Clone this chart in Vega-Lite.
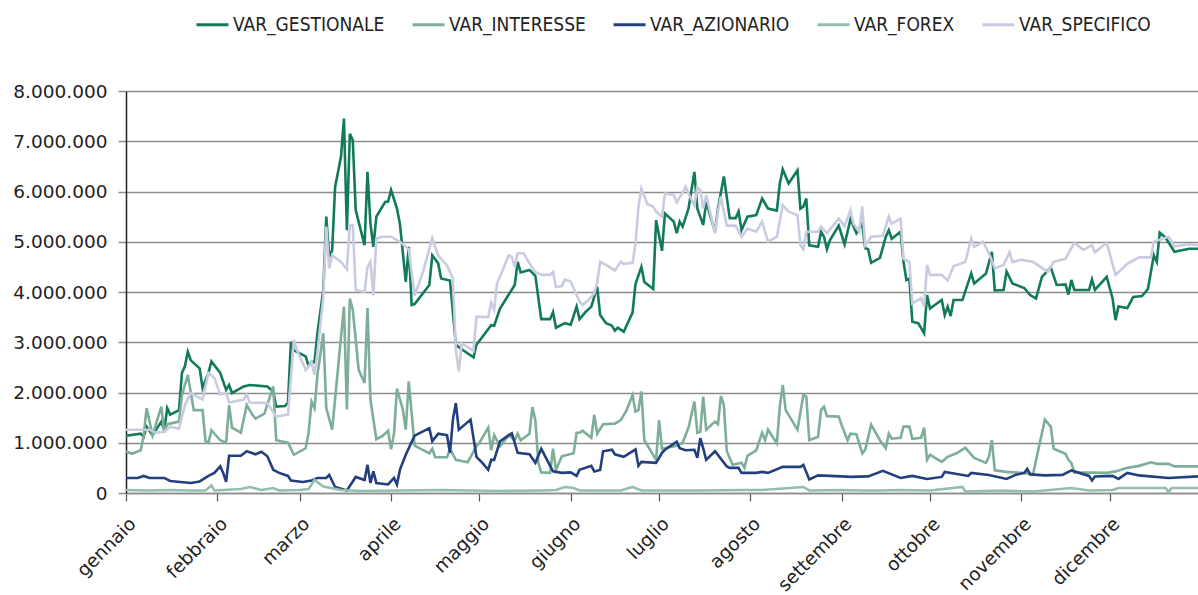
{
  "$schema": "https://vega.github.io/schema/vega-lite/v6.json",
  "width": 1072,
  "height": 402,
  "autosize": {"type": "none"},
  "padding": {"left": 126, "top": 91, "right": 0, "bottom": 102},
  "background": "white",
  "config": {
    "view": {"stroke": null},
    "locale": {"number": {"decimal": ",", "thousands": ".", "grouping": [3], "currency": ["", " €"]}}
  },
  "datasets": {
    "g": [
      {"d":"2021-01-01","v":1140000},{"d":"2021-01-06","v":1180000},{"d":"2021-01-07","v":1120000},{"d":"2021-01-08","v":1320000},{"d":"2021-01-10","v":1150000},{"d":"2021-01-13","v":1420000},{"d":"2021-01-14","v":1250000},{"d":"2021-01-15","v":1690000},{"d":"2021-01-16","v":1560000},{"d":"2021-01-19","v":1650000},{"d":"2021-01-20","v":2390000},{"d":"2021-01-21","v":2520000},{"d":"2021-01-22","v":2810000},{"d":"2021-01-23","v":2640000},{"d":"2021-01-26","v":2480000},{"d":"2021-01-27","v":2090000},{"d":"2021-01-29","v":2390000},{"d":"2021-01-30","v":2620000},
      {"d":"2021-02-02","v":2390000},{"d":"2021-02-04","v":2050000},{"d":"2021-02-05","v":2150000},{"d":"2021-02-06","v":1990000},{"d":"2021-02-10","v":2120000},{"d":"2021-02-12","v":2150000},{"d":"2021-02-18","v":2120000},{"d":"2021-02-20","v":2020000},{"d":"2021-02-21","v":1720000},{"d":"2021-02-24","v":1730000},{"d":"2021-02-25","v":1800000},{"d":"2021-02-26","v":3010000},{"d":"2021-02-27","v":2840000},
      {"d":"2021-03-03","v":2720000},{"d":"2021-03-04","v":2530000},{"d":"2021-03-05","v":2610000},{"d":"2021-03-06","v":2600000},{"d":"2021-03-07","v":3180000},{"d":"2021-03-09","v":4040000},{"d":"2021-03-10","v":5500000},{"d":"2021-03-11","v":4700000},{"d":"2021-03-12","v":4830000},{"d":"2021-03-13","v":6090000},{"d":"2021-03-15","v":6690000},{"d":"2021-03-16","v":7450000},{"d":"2021-03-17","v":5230000},{"d":"2021-03-18","v":7150000},{"d":"2021-03-19","v":7020000},{"d":"2021-03-20","v":5630000},{"d":"2021-03-23","v":4930000},{"d":"2021-03-24","v":6390000},{"d":"2021-03-25","v":5360000},{"d":"2021-03-26","v":4900000},{"d":"2021-03-27","v":5500000},{"d":"2021-03-30","v":5790000},{"d":"2021-03-31","v":5800000},
      {"d":"2021-04-01","v":6030000},{"d":"2021-04-03","v":5660000},{"d":"2021-04-04","v":5360000},{"d":"2021-04-06","v":4200000},{"d":"2021-04-07","v":4900000},{"d":"2021-04-08","v":3740000},{"d":"2021-04-09","v":3760000},{"d":"2021-04-14","v":4140000},{"d":"2021-04-15","v":4730000},{"d":"2021-04-17","v":4570000},{"d":"2021-04-18","v":4270000},{"d":"2021-04-21","v":4230000},{"d":"2021-04-22","v":3600000},{"d":"2021-04-23","v":2950000},{"d":"2021-04-25","v":2860000},{"d":"2021-04-29","v":2700000},{"d":"2021-04-30","v":2950000},
      {"d":"2021-05-05","v":3340000},{"d":"2021-05-06","v":3330000},{"d":"2021-05-08","v":3670000},{"d":"2021-05-13","v":4140000},{"d":"2021-05-14","v":4600000},{"d":"2021-05-15","v":4390000},{"d":"2021-05-18","v":4440000},{"d":"2021-05-20","v":4320000},{"d":"2021-05-22","v":3460000},{"d":"2021-05-25","v":3460000},{"d":"2021-05-26","v":3600000},{"d":"2021-05-27","v":3290000},{"d":"2021-05-30","v":3380000},
      {"d":"2021-06-01","v":3350000},{"d":"2021-06-03","v":3710000},{"d":"2021-06-04","v":3460000},{"d":"2021-06-06","v":3600000},{"d":"2021-06-08","v":3710000},{"d":"2021-06-10","v":4100000},{"d":"2021-06-11","v":3540000},{"d":"2021-06-13","v":3380000},{"d":"2021-06-15","v":3330000},{"d":"2021-06-16","v":3230000},{"d":"2021-06-17","v":3290000},{"d":"2021-06-19","v":3210000},{"d":"2021-06-22","v":3590000},{"d":"2021-06-23","v":4160000},{"d":"2021-06-25","v":4500000},{"d":"2021-06-26","v":4200000},{"d":"2021-06-29","v":4060000},{"d":"2021-06-30","v":5430000},
      {"d":"2021-07-02","v":4820000},{"d":"2021-07-03","v":5560000},{"d":"2021-07-06","v":5400000},{"d":"2021-07-07","v":5170000},{"d":"2021-07-08","v":5400000},{"d":"2021-07-09","v":5300000},{"d":"2021-07-11","v":5660000},{"d":"2021-07-13","v":6390000},{"d":"2021-07-14","v":5660000},{"d":"2021-07-16","v":5330000},{"d":"2021-07-17","v":5790000},{"d":"2021-07-20","v":5200000},{"d":"2021-07-21","v":5660000},{"d":"2021-07-23","v":6300000},{"d":"2021-07-25","v":5470000},{"d":"2021-07-27","v":5470000},{"d":"2021-07-28","v":5600000},{"d":"2021-07-29","v":5230000},{"d":"2021-07-31","v":5500000},
      {"d":"2021-08-03","v":5530000},{"d":"2021-08-05","v":5860000},{"d":"2021-08-07","v":5660000},{"d":"2021-08-10","v":5620000},{"d":"2021-08-11","v":6160000},{"d":"2021-08-12","v":6440000},{"d":"2021-08-14","v":6160000},{"d":"2021-08-17","v":6420000},{"d":"2021-08-18","v":5660000},{"d":"2021-08-19","v":5700000},{"d":"2021-08-20","v":5860000},{"d":"2021-08-21","v":4930000},{"d":"2021-08-24","v":4900000},{"d":"2021-08-25","v":5200000},{"d":"2021-08-26","v":5100000},{"d":"2021-08-27","v":4850000},{"d":"2021-08-28","v":5030000},{"d":"2021-08-31","v":5320000},
      {"d":"2021-09-02","v":4950000},{"d":"2021-09-04","v":5450000},{"d":"2021-09-06","v":5170000},{"d":"2021-09-08","v":5360000},{"d":"2021-09-09","v":4870000},{"d":"2021-09-10","v":4850000},{"d":"2021-09-11","v":4580000},{"d":"2021-09-14","v":4680000},{"d":"2021-09-16","v":5100000},{"d":"2021-09-17","v":5230000},{"d":"2021-09-18","v":5060000},{"d":"2021-09-21","v":5200000},{"d":"2021-09-22","v":4600000},{"d":"2021-09-23","v":4240000},{"d":"2021-09-24","v":4270000},{"d":"2021-09-25","v":3410000},{"d":"2021-09-27","v":3380000},{"d":"2021-09-29","v":3180000},{"d":"2021-09-30","v":3940000},
      {"d":"2021-10-01","v":3670000},{"d":"2021-10-05","v":3840000},{"d":"2021-10-06","v":3540000},{"d":"2021-10-07","v":3710000},{"d":"2021-10-08","v":3520000},{"d":"2021-10-09","v":3840000},{"d":"2021-10-12","v":3840000},{"d":"2021-10-15","v":4370000},{"d":"2021-10-16","v":4170000},{"d":"2021-10-20","v":4370000},{"d":"2021-10-21","v":4580000},{"d":"2021-10-22","v":4800000},{"d":"2021-10-23","v":4030000},{"d":"2021-10-26","v":4040000},{"d":"2021-10-27","v":4410000},{"d":"2021-10-29","v":4170000},
      {"d":"2021-11-02","v":4080000},{"d":"2021-11-04","v":3940000},{"d":"2021-11-06","v":3870000},{"d":"2021-11-08","v":4300000},{"d":"2021-11-11","v":4490000},{"d":"2021-11-13","v":4140000},{"d":"2021-11-16","v":4150000},{"d":"2021-11-17","v":3950000},{"d":"2021-11-18","v":4240000},{"d":"2021-11-19","v":4040000},{"d":"2021-11-24","v":4040000},{"d":"2021-11-25","v":4250000},{"d":"2021-11-26","v":4040000},{"d":"2021-11-30","v":4300000},
      {"d":"2021-12-02","v":3870000},{"d":"2021-12-03","v":3440000},{"d":"2021-12-04","v":3710000},{"d":"2021-12-07","v":3680000},{"d":"2021-12-09","v":3900000},{"d":"2021-12-12","v":3920000},{"d":"2021-12-14","v":4060000},{"d":"2021-12-16","v":4730000},{"d":"2021-12-17","v":4600000},{"d":"2021-12-18","v":5180000},{"d":"2021-12-20","v":5080000},{"d":"2021-12-23","v":4800000},{"d":"2021-12-28","v":4860000},{"d":"2021-12-31","v":4860000}
    ],
    "i": [
      {"d":"2021-01-01","v":830000},{"d":"2021-01-03","v":780000},{"d":"2021-01-06","v":850000},{"d":"2021-01-07","v":1150000},{"d":"2021-01-08","v":1690000},{"d":"2021-01-10","v":1150000},{"d":"2021-01-13","v":1720000},{"d":"2021-01-14","v":1200000},{"d":"2021-01-15","v":1370000},{"d":"2021-01-19","v":1420000},{"d":"2021-01-20","v":1950000},{"d":"2021-01-22","v":2350000},{"d":"2021-01-24","v":1650000},{"d":"2021-01-27","v":1650000},{"d":"2021-01-28","v":1030000},{"d":"2021-01-29","v":1000000},{"d":"2021-01-30","v":1250000},
      {"d":"2021-02-02","v":1050000},{"d":"2021-02-04","v":1000000},{"d":"2021-02-05","v":1750000},{"d":"2021-02-06","v":1300000},{"d":"2021-02-09","v":1200000},{"d":"2021-02-11","v":1750000},{"d":"2021-02-13","v":1550000},{"d":"2021-02-14","v":1480000},{"d":"2021-02-17","v":1580000},{"d":"2021-02-20","v":2120000},{"d":"2021-02-21","v":1050000},{"d":"2021-02-25","v":1000000},{"d":"2021-02-27","v":760000},
      {"d":"2021-03-03","v":890000},{"d":"2021-03-04","v":1200000},{"d":"2021-03-05","v":1820000},{"d":"2021-03-06","v":1690000},{"d":"2021-03-07","v":2350000},{"d":"2021-03-09","v":3180000},{"d":"2021-03-10","v":1690000},{"d":"2021-03-12","v":1260000},{"d":"2021-03-16","v":3710000},{"d":"2021-03-17","v":1660000},{"d":"2021-03-18","v":3870000},{"d":"2021-03-19","v":3650000},{"d":"2021-03-21","v":2450000},{"d":"2021-03-23","v":2190000},{"d":"2021-03-24","v":3680000},{"d":"2021-03-25","v":1860000},{"d":"2021-03-27","v":1070000},{"d":"2021-03-29","v":1130000},{"d":"2021-03-31","v":1240000},
      {"d":"2021-04-01","v":870000},{"d":"2021-04-02","v":1180000},{"d":"2021-04-03","v":2080000},{"d":"2021-04-05","v":1660000},{"d":"2021-04-06","v":1260000},{"d":"2021-04-07","v":2220000},{"d":"2021-04-09","v":940000},{"d":"2021-04-14","v":790000},{"d":"2021-04-15","v":880000},{"d":"2021-04-16","v":710000},{"d":"2021-04-20","v":710000},{"d":"2021-04-21","v":880000},{"d":"2021-04-23","v":660000},{"d":"2021-04-27","v":610000},{"d":"2021-04-30","v":930000},
      {"d":"2021-05-01","v":1000000},{"d":"2021-05-04","v":1300000},{"d":"2021-05-05","v":850000},{"d":"2021-05-06","v":1150000},{"d":"2021-05-08","v":930000},{"d":"2021-05-11","v":1150000},{"d":"2021-05-13","v":1050000},{"d":"2021-05-14","v":1180000},{"d":"2021-05-15","v":1050000},{"d":"2021-05-18","v":1180000},{"d":"2021-05-19","v":1710000},{"d":"2021-05-20","v":1450000},{"d":"2021-05-21","v":600000},{"d":"2021-05-22","v":410000},{"d":"2021-05-25","v":400000},{"d":"2021-05-26","v":880000},{"d":"2021-05-27","v":460000},{"d":"2021-05-29","v":730000},
      {"d":"2021-06-02","v":790000},{"d":"2021-06-03","v":1200000},{"d":"2021-06-04","v":1200000},{"d":"2021-06-05","v":1240000},{"d":"2021-06-08","v":1100000},{"d":"2021-06-09","v":1560000},{"d":"2021-06-10","v":1180000},{"d":"2021-06-12","v":1370000},{"d":"2021-06-16","v":1380000},{"d":"2021-06-18","v":1450000},{"d":"2021-06-20","v":1650000},{"d":"2021-06-22","v":1950000},{"d":"2021-06-23","v":1620000},{"d":"2021-06-24","v":1650000},{"d":"2021-06-25","v":2020000},{"d":"2021-06-26","v":1050000},{"d":"2021-06-30","v":660000},
      {"d":"2021-07-01","v":1450000},{"d":"2021-07-02","v":880000},{"d":"2021-07-07","v":940000},{"d":"2021-07-09","v":1000000},{"d":"2021-07-11","v":1300000},{"d":"2021-07-13","v":1820000},{"d":"2021-07-14","v":1200000},{"d":"2021-07-15","v":1220000},{"d":"2021-07-16","v":1920000},{"d":"2021-07-17","v":1260000},{"d":"2021-07-20","v":1420000},{"d":"2021-07-21","v":1370000},{"d":"2021-07-22","v":1930000},{"d":"2021-07-23","v":1750000},{"d":"2021-07-24","v":830000},{"d":"2021-07-26","v":560000},{"d":"2021-07-29","v":600000},{"d":"2021-07-30","v":500000},{"d":"2021-07-31","v":740000},
      {"d":"2021-08-03","v":850000},{"d":"2021-08-05","v":1200000},{"d":"2021-08-06","v":1050000},{"d":"2021-08-07","v":1260000},{"d":"2021-08-10","v":990000},{"d":"2021-08-11","v":1720000},{"d":"2021-08-12","v":2150000},{"d":"2021-08-13","v":1650000},{"d":"2021-08-17","v":1260000},{"d":"2021-08-19","v":1950000},{"d":"2021-08-20","v":1920000},{"d":"2021-08-21","v":1050000},{"d":"2021-08-24","v":1120000},{"d":"2021-08-25","v":1650000},{"d":"2021-08-26","v":1720000},{"d":"2021-08-27","v":1530000},{"d":"2021-08-31","v":1520000},
      {"d":"2021-09-01","v":1350000},{"d":"2021-09-03","v":1050000},{"d":"2021-09-04","v":1180000},{"d":"2021-09-06","v":1170000},{"d":"2021-09-08","v":790000},{"d":"2021-09-09","v":860000},{"d":"2021-09-11","v":1360000},{"d":"2021-09-14","v":1050000},{"d":"2021-09-16","v":890000},{"d":"2021-09-17","v":1180000},{"d":"2021-09-18","v":1080000},{"d":"2021-09-21","v":1100000},{"d":"2021-09-22","v":1320000},{"d":"2021-09-24","v":1320000},{"d":"2021-09-25","v":1080000},{"d":"2021-09-28","v":1100000},{"d":"2021-09-29","v":1300000},{"d":"2021-09-30","v":660000},
      {"d":"2021-10-01","v":760000},{"d":"2021-10-05","v":620000},{"d":"2021-10-07","v":720000},{"d":"2021-10-10","v":790000},{"d":"2021-10-13","v":900000},{"d":"2021-10-16","v":700000},{"d":"2021-10-20","v":600000},{"d":"2021-10-21","v":720000},{"d":"2021-10-22","v":1050000},{"d":"2021-10-23","v":450000},{"d":"2021-10-27","v":420000},
      {"d":"2021-11-01","v":400000},{"d":"2021-11-05","v":380000},{"d":"2021-11-09","v":1460000},{"d":"2021-11-11","v":1320000},{"d":"2021-11-12","v":880000},{"d":"2021-11-16","v":780000},{"d":"2021-11-17","v":660000},{"d":"2021-11-18","v":600000},{"d":"2021-11-19","v":410000},{"d":"2021-11-30","v":400000},
      {"d":"2021-12-03","v":430000},{"d":"2021-12-07","v":500000},{"d":"2021-12-11","v":540000},{"d":"2021-12-15","v":610000},{"d":"2021-12-17","v":580000},{"d":"2021-12-21","v":580000},{"d":"2021-12-23","v":530000},{"d":"2021-12-31","v":530000}
    ],
    "a": [
      {"d":"2021-01-01","v":300000},{"d":"2021-01-05","v":300000},{"d":"2021-01-07","v":340000},{"d":"2021-01-09","v":300000},{"d":"2021-01-14","v":300000},{"d":"2021-01-16","v":240000},{"d":"2021-01-23","v":200000},{"d":"2021-01-26","v":230000},{"d":"2021-01-29","v":340000},{"d":"2021-01-31","v":400000},
      {"d":"2021-02-02","v":530000},{"d":"2021-02-03","v":400000},{"d":"2021-02-04","v":220000},{"d":"2021-02-05","v":740000},{"d":"2021-02-09","v":740000},{"d":"2021-02-11","v":830000},{"d":"2021-02-14","v":770000},{"d":"2021-02-16","v":820000},{"d":"2021-02-18","v":730000},{"d":"2021-02-20","v":460000},{"d":"2021-02-22","v":400000},{"d":"2021-02-25","v":340000},{"d":"2021-02-26","v":250000},
      {"d":"2021-03-02","v":220000},{"d":"2021-03-05","v":250000},{"d":"2021-03-07","v":300000},{"d":"2021-03-10","v":300000},{"d":"2021-03-11","v":360000},{"d":"2021-03-13","v":120000},{"d":"2021-03-17","v":50000},{"d":"2021-03-20","v":320000},{"d":"2021-03-23","v":260000},{"d":"2021-03-24","v":560000},{"d":"2021-03-25","v":200000},{"d":"2021-03-26","v":430000},{"d":"2021-03-27","v":200000},{"d":"2021-03-31","v":170000},
      {"d":"2021-04-02","v":300000},{"d":"2021-04-03","v":170000},{"d":"2021-04-04","v":460000},{"d":"2021-04-06","v":760000},{"d":"2021-04-09","v":1140000},{"d":"2021-04-14","v":1290000},{"d":"2021-04-15","v":1030000},{"d":"2021-04-17","v":1180000},{"d":"2021-04-20","v":1150000},{"d":"2021-04-21","v":800000},{"d":"2021-04-22","v":1460000},{"d":"2021-04-23","v":1790000},{"d":"2021-04-24","v":1260000},{"d":"2021-04-28","v":1460000},{"d":"2021-04-30","v":720000},
      {"d":"2021-05-02","v":600000},{"d":"2021-05-04","v":460000},{"d":"2021-05-05","v":660000},{"d":"2021-05-06","v":660000},{"d":"2021-05-08","v":1030000},{"d":"2021-05-12","v":1190000},{"d":"2021-05-14","v":800000},{"d":"2021-05-18","v":770000},{"d":"2021-05-20","v":600000},{"d":"2021-05-22","v":880000},{"d":"2021-05-26","v":430000},{"d":"2021-05-29","v":400000},
      {"d":"2021-06-01","v":410000},{"d":"2021-06-03","v":340000},{"d":"2021-06-04","v":460000},{"d":"2021-06-08","v":540000},{"d":"2021-06-09","v":430000},{"d":"2021-06-11","v":460000},{"d":"2021-06-12","v":830000},{"d":"2021-06-15","v":860000},{"d":"2021-06-16","v":770000},{"d":"2021-06-19","v":720000},{"d":"2021-06-23","v":870000},{"d":"2021-06-24","v":540000},{"d":"2021-06-25","v":620000},{"d":"2021-06-30","v":600000},
      {"d":"2021-07-02","v":800000},{"d":"2021-07-03","v":860000},{"d":"2021-07-07","v":1020000},{"d":"2021-07-08","v":890000},{"d":"2021-07-10","v":850000},{"d":"2021-07-13","v":860000},{"d":"2021-07-14","v":700000},{"d":"2021-07-15","v":1090000},{"d":"2021-07-16","v":890000},{"d":"2021-07-17","v":660000},{"d":"2021-07-20","v":830000},{"d":"2021-07-24","v":530000},{"d":"2021-07-25","v":500000},{"d":"2021-07-28","v":500000},{"d":"2021-07-29","v":400000},
      {"d":"2021-08-03","v":400000},{"d":"2021-08-05","v":420000},{"d":"2021-08-07","v":400000},{"d":"2021-08-12","v":520000},{"d":"2021-08-18","v":520000},{"d":"2021-08-19","v":560000},{"d":"2021-08-21","v":270000},{"d":"2021-08-24","v":350000},
      {"d":"2021-09-01","v":330000},{"d":"2021-09-04","v":320000},{"d":"2021-09-10","v":330000},{"d":"2021-09-15","v":440000},{"d":"2021-09-21","v":300000},{"d":"2021-09-25","v":340000},{"d":"2021-09-30","v":280000},
      {"d":"2021-10-05","v":320000},{"d":"2021-10-06","v":420000},{"d":"2021-10-14","v":340000},{"d":"2021-10-15","v":400000},{"d":"2021-10-21","v":360000},{"d":"2021-10-27","v":280000},{"d":"2021-10-30","v":360000},
      {"d":"2021-11-02","v":400000},{"d":"2021-11-03","v":480000},{"d":"2021-11-04","v":370000},{"d":"2021-11-09","v":350000},{"d":"2021-11-15","v":360000},{"d":"2021-11-18","v":450000},{"d":"2021-11-24","v":340000},{"d":"2021-11-25","v":250000},{"d":"2021-11-26","v":330000},
      {"d":"2021-12-02","v":340000},{"d":"2021-12-04","v":280000},{"d":"2021-12-07","v":400000},{"d":"2021-12-11","v":350000},{"d":"2021-12-21","v":300000},{"d":"2021-12-31","v":330000}
    ],
    "f": [
      {"d":"2021-01-01","v":60000},{"d":"2021-01-09","v":50000},{"d":"2021-01-16","v":60000},{"d":"2021-01-23","v":50000},{"d":"2021-01-28","v":50000},{"d":"2021-01-30","v":150000},{"d":"2021-01-31","v":50000},
      {"d":"2021-02-09","v":80000},{"d":"2021-02-12","v":120000},{"d":"2021-02-16","v":60000},{"d":"2021-02-20","v":100000},{"d":"2021-02-22","v":50000},
      {"d":"2021-03-01","v":60000},{"d":"2021-03-04","v":80000},{"d":"2021-03-06","v":260000},{"d":"2021-03-09","v":130000},{"d":"2021-03-15","v":60000},{"d":"2021-03-22","v":40000},
      {"d":"2021-04-04","v":50000},{"d":"2021-04-18","v":60000},{"d":"2021-05-08","v":40000},{"d":"2021-05-22","v":50000},{"d":"2021-05-27","v":60000},{"d":"2021-05-30","v":120000},
      {"d":"2021-06-02","v":100000},{"d":"2021-06-04","v":50000},{"d":"2021-06-18","v":50000},{"d":"2021-06-22","v":120000},{"d":"2021-06-25","v":50000},
      {"d":"2021-07-15","v":50000},{"d":"2021-07-29","v":60000},{"d":"2021-08-05","v":60000},{"d":"2021-08-19","v":120000},{"d":"2021-08-21","v":50000},
      {"d":"2021-09-01","v":60000},{"d":"2021-09-08","v":50000},{"d":"2021-09-14","v":50000},{"d":"2021-09-21","v":60000},
      {"d":"2021-10-01","v":50000},{"d":"2021-10-12","v":120000},{"d":"2021-10-13","v":30000},{"d":"2021-10-25","v":50000},
      {"d":"2021-11-05","v":30000},{"d":"2021-11-18","v":100000},{"d":"2021-11-24","v":50000},
      {"d":"2021-12-02","v":60000},{"d":"2021-12-04","v":100000},{"d":"2021-12-20","v":100000},{"d":"2021-12-21","v":20000},{"d":"2021-12-22","v":100000},{"d":"2021-12-31","v":100000}
    ],
    "s": [
      {"d":"2021-01-01","v":1260000},{"d":"2021-01-09","v":1260000},{"d":"2021-01-11","v":1200000},{"d":"2021-01-14","v":1220000},{"d":"2021-01-16","v":1320000},{"d":"2021-01-19","v":1280000},{"d":"2021-01-21","v":1750000},{"d":"2021-01-23","v":1990000},{"d":"2021-01-27","v":1860000},{"d":"2021-01-29","v":2390000},{"d":"2021-01-31","v":2290000},
      {"d":"2021-02-02","v":1960000},{"d":"2021-02-04","v":1990000},{"d":"2021-02-05","v":1800000},{"d":"2021-02-10","v":1860000},{"d":"2021-02-11","v":1960000},{"d":"2021-02-12","v":1800000},{"d":"2021-02-18","v":1790000},{"d":"2021-02-21","v":1520000},{"d":"2021-02-25","v":1560000},{"d":"2021-02-27","v":3050000},{"d":"2021-02-28","v":2850000},
      {"d":"2021-03-03","v":2450000},{"d":"2021-03-05","v":2600000},{"d":"2021-03-06","v":2350000},{"d":"2021-03-07","v":2790000},{"d":"2021-03-09","v":3900000},{"d":"2021-03-10","v":5300000},{"d":"2021-03-11","v":4470000},{"d":"2021-03-12","v":4730000},{"d":"2021-03-15","v":4600000},{"d":"2021-03-17","v":4450000},{"d":"2021-03-18","v":5330000},{"d":"2021-03-19","v":5330000},{"d":"2021-03-20","v":4040000},{"d":"2021-03-23","v":4000000},{"d":"2021-03-24","v":4500000},{"d":"2021-03-25","v":4600000},{"d":"2021-03-26","v":3930000},{"d":"2021-03-27","v":5060000},{"d":"2021-03-29","v":5100000},
      {"d":"2021-04-01","v":5100000},{"d":"2021-04-04","v":5000000},{"d":"2021-04-07","v":4850000},{"d":"2021-04-09","v":3930000},{"d":"2021-04-12","v":4430000},{"d":"2021-04-15","v":5070000},{"d":"2021-04-17","v":4730000},{"d":"2021-04-20","v":4530000},{"d":"2021-04-22","v":4270000},{"d":"2021-04-23","v":2850000},{"d":"2021-04-24","v":2420000},{"d":"2021-04-25","v":2980000},{"d":"2021-04-29","v":2830000},{"d":"2021-04-30","v":3510000},
      {"d":"2021-05-04","v":3500000},{"d":"2021-05-05","v":3790000},{"d":"2021-05-06","v":3650000},{"d":"2021-05-07","v":4170000},{"d":"2021-05-11","v":4730000},{"d":"2021-05-12","v":4700000},{"d":"2021-05-13","v":4500000},{"d":"2021-05-14","v":4770000},{"d":"2021-05-16","v":4770000},{"d":"2021-05-18","v":4570000},{"d":"2021-05-20","v":4400000},{"d":"2021-05-22","v":4340000},{"d":"2021-05-25","v":4340000},{"d":"2021-05-26","v":4400000},{"d":"2021-05-27","v":4100000},{"d":"2021-05-29","v":4120000},{"d":"2021-05-30","v":4250000},
      {"d":"2021-06-01","v":4210000},{"d":"2021-06-04","v":3810000},{"d":"2021-06-05","v":3740000},{"d":"2021-06-07","v":3840000},{"d":"2021-06-09","v":3970000},{"d":"2021-06-10","v":4200000},{"d":"2021-06-11","v":4600000},{"d":"2021-06-13","v":4540000},{"d":"2021-06-16","v":4430000},{"d":"2021-06-18","v":4600000},{"d":"2021-06-19","v":4560000},{"d":"2021-06-22","v":4580000},{"d":"2021-06-23","v":4960000},{"d":"2021-06-24","v":5700000},{"d":"2021-06-25","v":6060000},{"d":"2021-06-27","v":5750000},{"d":"2021-06-29","v":5700000},{"d":"2021-06-30","v":5600000},
      {"d":"2021-07-02","v":5500000},{"d":"2021-07-03","v":5960000},{"d":"2021-07-06","v":5930000},{"d":"2021-07-07","v":5780000},{"d":"2021-07-10","v":6090000},{"d":"2021-07-11","v":5960000},{"d":"2021-07-13","v":5720000},{"d":"2021-07-14","v":6090000},{"d":"2021-07-15","v":6030000},{"d":"2021-07-16","v":5660000},{"d":"2021-07-17","v":5930000},{"d":"2021-07-20","v":5170000},{"d":"2021-07-21","v":5600000},{"d":"2021-07-22","v":5900000},{"d":"2021-07-24","v":5320000},{"d":"2021-07-27","v":5320000},{"d":"2021-07-29","v":5100000},{"d":"2021-07-31","v":5260000},
      {"d":"2021-08-03","v":5200000},{"d":"2021-08-05","v":5400000},{"d":"2021-08-07","v":5000000},{"d":"2021-08-10","v":5100000},{"d":"2021-08-12","v":5730000},{"d":"2021-08-14","v":5600000},{"d":"2021-08-17","v":5530000},{"d":"2021-08-18","v":4930000},{"d":"2021-08-19","v":4850000},{"d":"2021-08-20","v":5200000},{"d":"2021-08-24","v":5200000},{"d":"2021-08-25","v":5300000},{"d":"2021-08-27","v":5170000},{"d":"2021-08-31","v":5460000},
      {"d":"2021-09-02","v":5310000},{"d":"2021-09-04","v":5630000},{"d":"2021-09-05","v":5360000},{"d":"2021-09-07","v":5200000},{"d":"2021-09-08","v":5700000},{"d":"2021-09-09","v":4930000},{"d":"2021-09-11","v":5100000},{"d":"2021-09-15","v":5120000},{"d":"2021-09-17","v":5500000},{"d":"2021-09-18","v":5360000},{"d":"2021-09-21","v":5460000},{"d":"2021-09-22","v":4660000},{"d":"2021-09-24","v":4600000},{"d":"2021-09-25","v":3770000},{"d":"2021-09-28","v":3880000},{"d":"2021-09-29","v":3710000},{"d":"2021-09-30","v":4540000},
      {"d":"2021-10-01","v":4340000},{"d":"2021-10-05","v":4340000},{"d":"2021-10-07","v":4230000},{"d":"2021-10-09","v":4510000},{"d":"2021-10-13","v":4600000},{"d":"2021-10-15","v":5070000},{"d":"2021-10-16","v":4900000},{"d":"2021-10-19","v":5000000},{"d":"2021-10-21","v":4770000},{"d":"2021-10-23","v":4470000},{"d":"2021-10-26","v":4540000},{"d":"2021-10-28","v":4790000},{"d":"2021-10-29","v":4600000},
      {"d":"2021-11-01","v":4640000},{"d":"2021-11-05","v":4600000},{"d":"2021-11-10","v":4400000},{"d":"2021-11-12","v":4600000},{"d":"2021-11-16","v":4660000},{"d":"2021-11-19","v":4980000},{"d":"2021-11-22","v":4840000},{"d":"2021-11-25","v":4930000},{"d":"2021-11-26","v":4790000},{"d":"2021-11-30","v":4980000},
      {"d":"2021-12-03","v":4340000},{"d":"2021-12-07","v":4560000},{"d":"2021-12-11","v":4690000},{"d":"2021-12-15","v":4690000},{"d":"2021-12-16","v":5000000},{"d":"2021-12-21","v":5100000},{"d":"2021-12-23","v":4910000},{"d":"2021-12-28","v":4950000},{"d":"2021-12-31","v":4930000}
    ]
  },
  "encoding": {
    "x": {
      "field": "d",
      "type": "temporal",
      "scale": {"domain": [{"year": 2021, "month": 1, "date": 1}, {"year": 2021, "month": 12, "date": 31}]},
      "axis": {
        "title": null,
        "grid": false,
        "values": [
          {"year": 2021, "month": 1, "date": 1}, {"year": 2021, "month": 2, "date": 1}, {"year": 2021, "month": 3, "date": 1},
          {"year": 2021, "month": 4, "date": 1}, {"year": 2021, "month": 5, "date": 1}, {"year": 2021, "month": 6, "date": 1},
          {"year": 2021, "month": 7, "date": 1}, {"year": 2021, "month": 8, "date": 1}, {"year": 2021, "month": 9, "date": 1},
          {"year": 2021, "month": 10, "date": 1}, {"year": 2021, "month": 11, "date": 1}, {"year": 2021, "month": 12, "date": 1}
        ],
        "labelExpr": "['gennaio','febbraio','marzo','aprile','maggio','giugno','luglio','agosto','settembre','ottobre','novembre','dicembre'][month(datum.value)]",
        "labelAngle": -45,
        "labelAlign": "right",
        "labelBaseline": "top",
        "labelFont": "DejaVu Sans",
        "labelFontSize": 18.5,
        "labelColor": "#222222",
        "labelPadding": 13,
        "labelOverlap": false,
        "labelBound": false,
        "labelFlush": false,
        "tickSize": 8,
        "tickColor": "#555555",
        "tickWidth": 1.2,
        "domainColor": "#8c8c8c",
        "domainWidth": 1.5
      }
    },
    "y": {
      "field": "v",
      "type": "quantitative",
      "scale": {"domain": [0, 8000000]},
      "axis": {
        "title": null,
        "values": [0, 1000000, 2000000, 3000000, 4000000, 5000000, 6000000, 7000000, 8000000],
        "format": ",d",
        "labelFont": "DejaVu Sans",
        "labelFontSize": 18.5,
        "labelColor": "#222222",
        "labelPadding": 11,
        "tickSize": 8,
        "tickColor": "#8c8c8c",
        "tickWidth": 1.5,
        "domainColor": "#222222",
        "domainWidth": 1.5,
        "gridColor": "#8c8c8c",
        "gridWidth": 1.5
      }
    }
  },
  "layer": [
    {
      "data": {"name": "g"},
      "mark": {"type": "line", "strokeWidth": 2.6, "interpolate": "linear"},
      "encoding": {
        "color": {
          "datum": "VAR_GESTIONALE",
          "scale": {
            "domain": ["VAR_GESTIONALE", "VAR_INTERESSE", "VAR_AZIONARIO", "VAR_FOREX", "VAR_SPECIFICO"],
            "range": ["#117a5a", "#7dae98", "#233f7d", "#92bfad", "#c9cce1"]
          },
          "legend": {
            "title": null,
            "orient": "none",
            "legendX": 69,
            "legendY": -84,
            "direction": "horizontal",
            "columns": 5,
            "columnPadding": 21,
            "symbolType": "stroke",
            "symbolSize": 1024,
            "symbolStrokeWidth": 3,
            "labelOffset": 3,
            "labelFont": "Liberation Sans Narrow, DejaVu Sans Condensed, sans-serif",
            "labelFontSize": 19,
            "labelColor": "#222222",
            "labelLimit": 300
          }
        }
      }
    },
    {"data": {"name": "i"}, "mark": {"type": "line", "strokeWidth": 2.6}, "encoding": {"color": {"datum": "VAR_INTERESSE"}}},
    {"data": {"name": "a"}, "mark": {"type": "line", "strokeWidth": 2.6}, "encoding": {"color": {"datum": "VAR_AZIONARIO"}}},
    {"data": {"name": "f"}, "mark": {"type": "line", "strokeWidth": 2.6}, "encoding": {"color": {"datum": "VAR_FOREX"}}},
    {"data": {"name": "s"}, "mark": {"type": "line", "strokeWidth": 2.6}, "encoding": {"color": {"datum": "VAR_SPECIFICO"}}}
  ]
}
